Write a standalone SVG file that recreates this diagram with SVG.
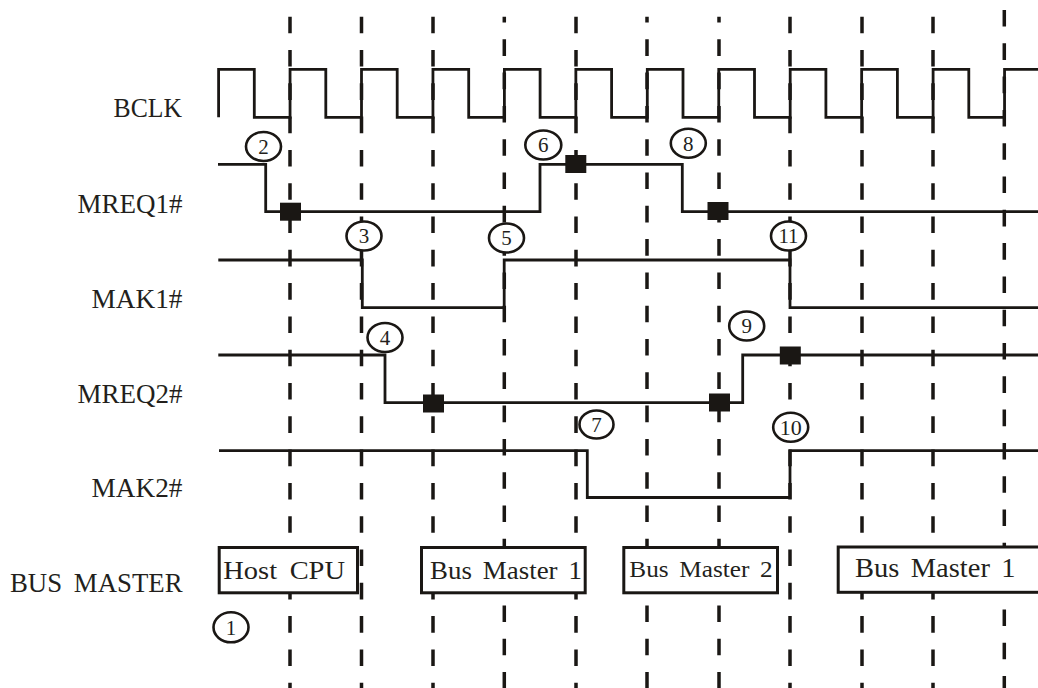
<svg xmlns="http://www.w3.org/2000/svg" width="1038" height="688" viewBox="0 0 1038 688">
<style>
.grid{stroke:#1a1714;stroke-width:3.5;stroke-dasharray:16.6 16.7;fill:none}
.sig{stroke:#1a1714;stroke-width:2.8;fill:none;stroke-linejoin:miter}
.lbl{font-family:"Liberation Serif","Times New Roman",serif;font-size:26.5px;fill:#231f1c;text-anchor:end}
.box{fill:#fff;stroke:#1a1714;stroke-width:3}
.btxt{font-family:"Liberation Serif","Times New Roman",serif;fill:#231f1c}
.num{fill:#fff;stroke:#1a1714;stroke-width:2.6}
.ntxt{font-family:"Liberation Serif","Times New Roman",serif;font-size:21px;fill:#231f1c;text-anchor:middle}
.sq{fill:#1a1714}
</style>
<rect width="1038" height="688" fill="#fff"/>
<g id="gridlines">
<line class="grid" x1="290" y1="16.7" x2="290" y2="688"/>
<line class="grid" x1="361.5" y1="16.7" x2="361.5" y2="688"/>
<line class="grid" x1="433" y1="16.7" x2="433" y2="688"/>
<line class="grid" x1="504.3" y1="16.7" x2="504.3" y2="688" stroke-dashoffset="10.7"/>
<line class="grid" x1="576" y1="16.7" x2="576" y2="688"/>
<line class="grid" x1="647" y1="16.7" x2="647" y2="688" stroke-dashoffset="10.7"/>
<line class="grid" x1="719" y1="16.7" x2="719" y2="688" stroke-dashoffset="10.7"/>
<line class="grid" x1="790" y1="16.7" x2="790" y2="688"/>
<line class="grid" x1="862" y1="16.7" x2="862" y2="688"/>
<line class="grid" x1="933" y1="16.7" x2="933" y2="688"/>
<line class="grid" x1="1004.3" y1="10" x2="1004.3" y2="688"/>
</g>
<g id="labels">
<text class="lbl" x="182" y="117.3" textLength="68.4" lengthAdjust="spacingAndGlyphs">BCLK</text>
<text class="lbl" x="182.5" y="213" textLength="105" lengthAdjust="spacingAndGlyphs">MREQ1#</text>
<text class="lbl" x="182.5" y="308" textLength="91" lengthAdjust="spacingAndGlyphs">MAK1#</text>
<text class="lbl" x="182.5" y="402.5" textLength="105" lengthAdjust="spacingAndGlyphs">MREQ2#</text>
<text class="lbl" x="182.5" y="497" textLength="91" lengthAdjust="spacingAndGlyphs">MAK2#</text>
<text class="lbl" x="182.5" y="592" word-spacing="5" textLength="172.5" lengthAdjust="spacingAndGlyphs">BUS MASTER</text>
</g>
<g id="connectors">
<path id="bclk" class="sig" d="M218.6,117.3 V69.3 H254.3 V117.3 H290.05 V69.3 H325.8 V117.3 H361.5 V69.3 H397.2 V117.3 H432.95 V69.3 H468.7 V117.3 H504.4 V69.3 H540.1 V117.3 H575.85 V69.3 H611.6 V117.3 H647.3 V69.3 H683 V117.3 H718.75 V69.3 H754.5 V117.3 H790.2 V69.3 H825.9 V117.3 H861.65 V69.3 H897.4 V117.3 H933.1 V69.3 H968.8 V117.3 H1004.55 V69.3 H1038"/>
<path id="mreq1" class="sig" d="M218,164.3 H265.7 V211.7 H540 V164.3 H682.3 V211.7 H1038"/>
<path id="mak1" class="sig" d="M218.3,260 H362.3 V307.7 H504.2 V260 H790 V307.7 H1038"/>
<path id="mreq2" class="sig" d="M218.3,355 H385 V402.7 H742.7 V355 H1038"/>
<path id="mak2" class="sig" d="M219,450.7 H587.3 V497.5 H790 V450.7 H1038"/>
</g>
<g id="markers">
<rect class="sq" x="280" y="202.7" width="21" height="18"/>
<rect class="sq" x="565.3" y="155" width="21" height="18"/>
<rect class="sq" x="707.5" y="202" width="21" height="18"/>
<rect class="sq" x="423" y="394.5" width="21" height="18"/>
<rect class="sq" x="709" y="393.5" width="21" height="18"/>
<rect class="sq" x="779.8" y="346.5" width="21" height="18"/>
</g>
<g id="box-host-cpu">
<rect class="box" x="219.2" y="547.5" width="138.3" height="45.3"/>
<text class="btxt" x="223.3" y="579.3" font-size="26" word-spacing="5" textLength="121.7" lengthAdjust="spacingAndGlyphs">Host CPU</text>
</g>
<g id="box-bus-master-1a">
<rect class="box" x="421.5" y="547.5" width="163.7" height="45.3"/>
<text class="btxt" x="430" y="579.3" font-size="25" word-spacing="4" textLength="152" lengthAdjust="spacingAndGlyphs">Bus Master 1</text>
</g>
<g id="box-bus-master-2">
<rect class="box" x="623.8" y="547.5" width="153.7" height="45.3"/>
<text class="btxt" x="629.3" y="576.7" font-size="23" word-spacing="4" textLength="143.4" lengthAdjust="spacingAndGlyphs">Bus Master 2</text>
</g>
<g id="box-bus-master-1b">
<rect class="box" x="838.2" y="547" width="210" height="45.3"/>
<text class="btxt" x="855" y="576.7" font-size="27" word-spacing="4" textLength="160.5" lengthAdjust="spacingAndGlyphs">Bus Master 1</text>
</g>
<g id="step-1"><ellipse class="num" cx="231" cy="627.3" rx="17.5" ry="15"/><text class="ntxt" x="231" y="634.5">1</text></g>
<g id="step-2"><ellipse class="num" cx="263.5" cy="146.5" rx="17.5" ry="14.5"/><text class="ntxt" x="263.5" y="153.7">2</text></g>
<g id="step-3"><ellipse class="num" cx="364" cy="236" rx="17.5" ry="14.5"/><text class="ntxt" x="364" y="243.2">3</text></g>
<g id="step-4"><ellipse class="num" cx="385" cy="337.5" rx="17.5" ry="14.5"/><text class="ntxt" x="385" y="344.7">4</text></g>
<g id="step-5"><ellipse class="num" cx="506.5" cy="238" rx="17.5" ry="14.5"/><text class="ntxt" x="506.5" y="245.2">5</text></g>
<g id="step-6"><ellipse class="num" cx="543.3" cy="145" rx="18" ry="14.5"/><text class="ntxt" x="543.3" y="152.2">6</text></g>
<g id="step-7"><ellipse class="num" cx="596.5" cy="424.5" rx="17" ry="14"/><text class="ntxt" x="596.5" y="431.7">7</text></g>
<g id="step-8"><ellipse class="num" cx="688.3" cy="143.3" rx="17.5" ry="14.5"/><text class="ntxt" x="688.3" y="150.5">8</text></g>
<g id="step-9"><ellipse class="num" cx="746.7" cy="326" rx="17.5" ry="14.5"/><text class="ntxt" x="746.7" y="333.2">9</text></g>
<g id="step-10"><ellipse class="num" cx="790.7" cy="427.3" rx="17.5" ry="14.5"/><text class="ntxt" x="790.7" y="434.5" textLength="22" lengthAdjust="spacingAndGlyphs">10</text></g>
<g id="step-11"><ellipse class="num" cx="788.5" cy="236" rx="17.5" ry="14.5"/><text class="ntxt" x="788.5" y="243.2" textLength="20" lengthAdjust="spacingAndGlyphs">11</text></g>
</svg>
